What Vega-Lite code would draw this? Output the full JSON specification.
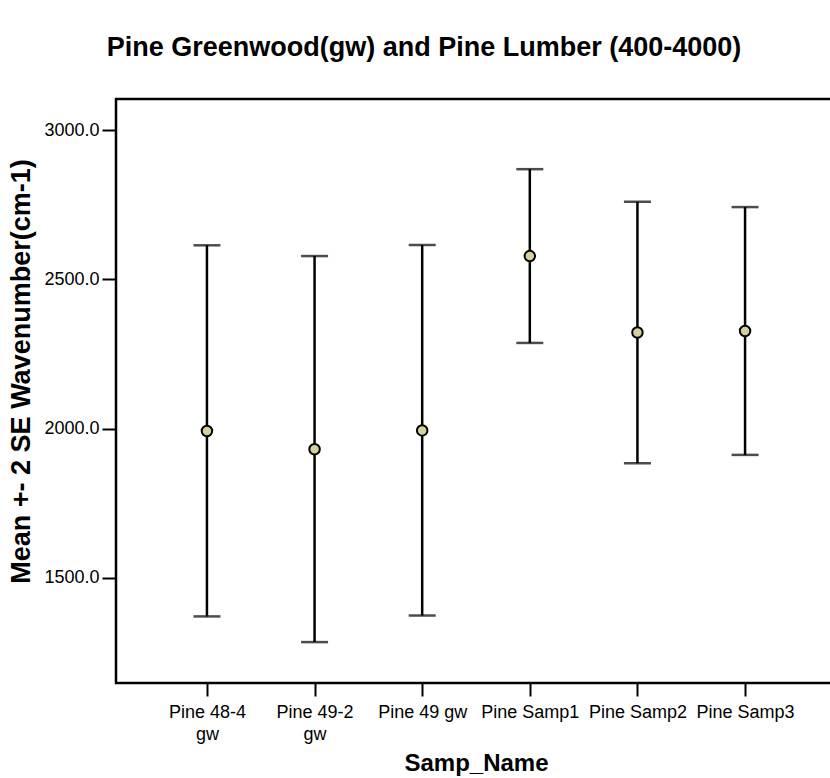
{
  "$schema": "https://vega.github.io/schema/vega-lite/v6.json",
  "autosize": {"type": "none"},
  "padding": {"left": 116, "top": 99, "right": 0, "bottom": 95},
  "width": 720,
  "height": 584,
  "title": {
    "text": "Pine Greenwood(gw) and Pine Lumber (400-4000)",
    "font": "Liberation Sans",
    "fontSize": 27,
    "fontWeight": "bold",
    "color": "black",
    "anchor": "middle",
    "dx": -52,
    "offset": 37
  },
  "config": {
    "view": {"stroke": "black", "strokeWidth": 2.5},
    "font": "Liberation Sans",
    "axis": {"labelColor": "black", "titleColor": "black", "domain": false, "grid": false}
  },
  "data": {
    "values": [
      {"Samp_Name": "Pine 48-4 gw", "mean": 1992, "lo": 1371, "hi": 2614},
      {"Samp_Name": "Pine 49-2 gw", "mean": 1931, "lo": 1285, "hi": 2578},
      {"Samp_Name": "Pine 49 gw", "mean": 1994, "lo": 1374, "hi": 2615},
      {"Samp_Name": "Pine Samp1", "mean": 2578, "lo": 2287, "hi": 2869},
      {"Samp_Name": "Pine Samp2", "mean": 2322, "lo": 1884, "hi": 2760},
      {"Samp_Name": "Pine Samp3", "mean": 2327, "lo": 1912, "hi": 2742}
    ]
  },
  "encoding": {
    "x": {
      "field": "Samp_Name",
      "type": "nominal",
      "sort": null,
      "scale": {"type": "point", "padding": 0.845},
      "axis": {
        "title": "Samp_Name",
        "titleFontSize": 24,
        "titleFontWeight": "bold",
        "titlePadding": 8,
        "labelFontSize": 18,
        "labelAngle": 0,
        "labelPadding": 7,
        "labelLineHeight": 22,
        "labelExpr": "length(datum.label) > 10 ? [substring(datum.label, 0, 9), substring(datum.label, 10)] : datum.label",
        "tickSize": 13,
        "tickWidth": 2,
        "tickColor": "black"
      }
    }
  },
  "layer": [
    {
      "mark": {"type": "rule", "color": "black", "strokeWidth": 2.5},
      "encoding": {
        "y": {
          "field": "lo",
          "type": "quantitative",
          "scale": {"domain": [1148, 3104], "nice": false, "zero": false},
          "axis": {
            "title": "Mean +- 2 SE Wavenumber(cm-1)",
            "titleFontSize": 27,
            "titleFontWeight": "bold",
            "titlePadding": 8,
            "titleY": 272,
            "values": [1500, 2000, 2500, 3000],
            "format": ".1f",
            "labelFontSize": 18,
            "labelPadding": 3,
            "tickSize": 14,
            "tickWidth": 2,
            "tickColor": "black"
          }
        },
        "y2": {"field": "hi"}
      }
    },
    {
      "mark": {"type": "tick", "color": "black", "size": 27, "thickness": 2.5},
      "encoding": {"y": {"field": "lo", "type": "quantitative"}}
    },
    {
      "mark": {"type": "tick", "color": "black", "size": 27, "thickness": 2.5},
      "encoding": {"y": {"field": "hi", "type": "quantitative"}}
    },
    {
      "mark": {"type": "point", "filled": true, "fill": "#d6d09e", "stroke": "black", "strokeWidth": 2, "size": 110, "opacity": 1},
      "encoding": {"y": {"field": "mean", "type": "quantitative"}}
    }
  ]
}
